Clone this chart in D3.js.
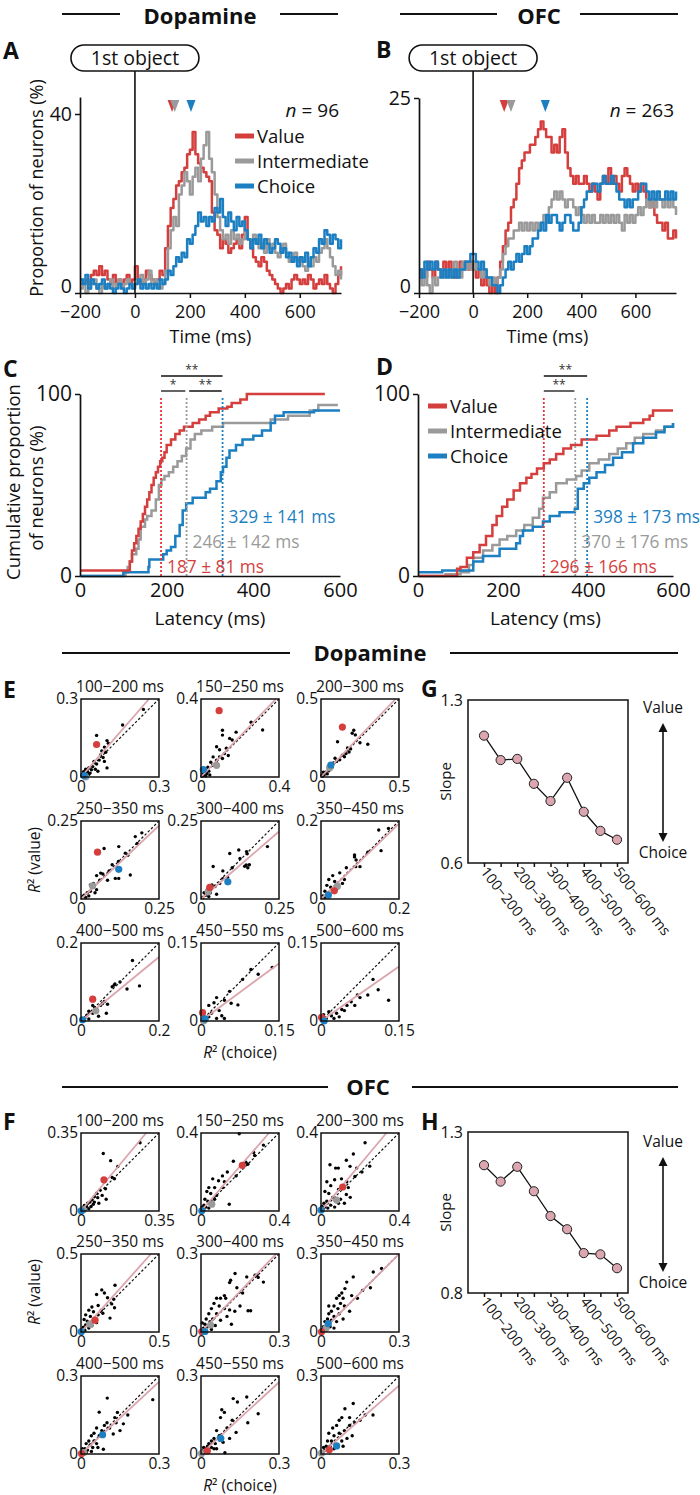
<!DOCTYPE html>
<html><head><meta charset="utf-8">
<script src="https://cdn.jsdelivr.net/npm/d3@7"></script>
<style>body{margin:0;background:#fff}svg{display:block}</style>
</head><body><script>
// ---------------- DATA ----------------
const times = d3.range(-200, 751, 10);
const valueA = [2,2,3,2,4,5,4,6,4,5, 3,2,4,2,3,2,3,4,2,3, 6,3,2,3,5,4,3,2,3,5, 4,10,15,19,21,24,25,27,28,31, 32,36,31,29,28,27,26,25,18,14, 13,10,12,11,9,10,11,12,10,13, 17,12,10,8,7,6,8,7,5,4, 3,2,1,0,1,2,1,3,4,3, 2,3,2,4,3,1,2,3,2,4, 2,1,0,2,4,6];
const interA = [1,3,0,1,2,3,1,0,2,1, 2,3,1,2,3,1,2,3,2,1, 2,3,4,2,3,5,2,3,2,1, 2,5,10,14,17,15,22,24,27,25, 22,26,28,25,30,33,36,30,27,22, 17,14,12,13,11,14,12,13,11,12, 14,12,11,13,12,10,11,9,12,10, 11,9,8,10,11,9,7,8,9,7, 8,6,5,7,6,8,7,9,10,12, 10,8,6,4,5,3];
const choiceA = [3,2,4,1,3,2,1,2,3,1, 2,1,0,1,2,1,0,1,2,1, 2,3,1,2,1,2,1,2,1,3, 2,3,5,4,6,8,7,9,8,12, 11,13,15,18,16,17,15,17,16,19, 18,21,17,15,18,16,14,17,15,16, 14,12,10,12,11,13,10,12,11,9, 10,12,11,9,10,8,9,7,8,6, 8,7,9,6,8,10,9,12,11,14, 13,11,13,12,10,12];
const valueB = [2,3,2,4,3,2,4,3,3,4, 3,4,3,2,3,4,3,4,3,4, 3,2,3,1,2,1,0,1,0,2, 4,6,8,9,11,12,14,16,17,18, 18,19,19,20,21,22,21,20,20,18, 19,18,20,21,18,16,15,14,15,14, 14,15,14,13,14,13,12,14,15,14, 16,14,15,14,13,15,16,15,14,13, 14,13,14,13,12,11,12,10,9,9, 8,9,7,7,8,7];
const interB = [2,1,3,1,0,2,1,2,3,2, 3,2,3,4,3,2,4,3,4,3, 4,3,3,2,3,2,1,2,1,2, 3,5,6,7,7,8,8,9,8,9, 8,9,8,9,8,9,10,9,11,12, 13,12,13,12,11,12,12,11,10,11, 10,9,10,9,10,9,9,10,9,10, 9,10,9,10,9,8,10,9,10,9, 10,11,10,11,12,11,12,11,12,12, 11,12,11,12,11,10];
const choiceB = [3,2,4,3,4,3,4,3,2,3, 2,3,2,3,2,3,3,4,4,5, 5,4,3,4,3,2,2,1,1,0, 1,2,3,4,3,4,5,4,5,6, 5,6,7,7,8,9,8,10,9,10, 10,9,8,9,10,10,9,8,8,9, 11,12,13,13,14,14,13,14,15,14, 14,15,14,13,12,12,11,12,11,12, 12,13,14,14,13,12,13,12,13,12, 12,13,12,13,12,13];
const onsetA = [135,145,204];   // triangles (ms)
const onsetB = [115,140,267];
const seriesNames = ["Value","Intermediate","Choice"];

// cumulative latency distributions [latency ms, %]
const valueC = [[0,3],[112,3],[115,8],[120,14],[125,18],[130,22],[135,26],[140,30],[145,34],[150,38],[155,42],[160,46],[165,50],[170,54],[175,57],[180,60],[185,63],[190,65],[195,68],[200,72],[210,75],[220,78],[230,80],[240,82],[260,84],[275,86],[290,88],[300,90],[320,92],[340,93],[350,95],[370,97],[385,100],[565,100]];
const interC = [[0,0],[100,0],[105,2],[110,5],[115,8],[120,12],[130,15],[135,20],[140,27],[150,31],[155,33],[165,36],[175,42],[182,50],[188,53],[195,55],[205,57],[215,60],[225,63],[235,66],[245,70],[255,75],[265,78],[280,80],[305,82],[330,84],[400,84],[440,86],[480,88],[530,91],[550,94],[595,94]];
const choiceC = [[0,0],[95,0],[100,2],[155,2],[158,5],[160,9],[185,9],[192,12],[200,14],[210,16],[220,22],[230,28],[237,36],[245,40],[260,43],[290,46],[300,48],[315,52],[325,57],[330,60],[338,65],[345,69],[360,72],[375,75],[400,77],[420,80],[440,84],[450,88],[470,90],[540,91],[600,91]];
const valueD = [[0,0],[90,0],[92,4],[100,5],[115,10],[130,13],[145,17],[160,22],[175,28],[185,33],[198,38],[210,42],[225,47],[240,51],[255,54],[267,56],[280,59],[296,62],[310,64],[325,67],[342,70],[360,72],[385,75],[420,77],[450,80],[467,82],[500,84],[530,86],[545,88],[553,91],[600,91]];
const interD = [[0,0],[62,0],[65,1],[100,2],[120,6],[130,10],[153,14],[175,17],[192,20],[210,22],[231,25],[250,28],[270,32],[285,37],[294,43],[310,46],[325,51],[350,53],[372,55],[385,58],[403,62],[425,64],[450,67],[470,70],[490,73],[510,76],[530,78],[560,80],[580,82],[600,84]];
const choiceD = [[0,2],[55,2],[57,3],[125,3],[130,8],[153,11],[192,15],[231,18],[240,22],[247,25],[270,27],[294,30],[310,33],[333,35],[369,37],[376,48],[390,51],[403,54],[420,57],[440,61],[459,65],[480,68],[506,73],[530,76],[560,79],[580,82],[600,84]];
const meanC = [187,246,329], sdC = [81,142,141];
const meanD = [296,370,398], sdD = [166,176,173];
const sigC = [[187,329,0,"**"],[187,243,1,"*"],[252,327,1,"**"]];
const sigD = [[296,398,0,"**"],[296,368,1,"**"]];

// regression windows
const windows = ["100−200 ms","150−250 ms","200−300 ms","250−350 ms","300−400 ms","350−450 ms","400−500 ms","450−550 ms","500−600 ms"];
const maxE = [0.3,0.4,0.5,0.25,0.25,0.2,0.2,0.15,0.15];
const maxF = [0.35,0.4,0.4,0.5,0.3,0.3,0.3,0.3,0.3];
const slopeG = [1.147,1.042,1.047,0.94,0.866,0.966,0.82,0.738,0.70];
const slopeH = [1.197,1.146,1.192,1.116,1.039,0.998,0.924,0.92,0.877];
const dotsE = [
 [[0.24,0.26],[0.16,0.2],[0.06,0.16],[0.1,0.14],[0.105,0.13],[0.09,0.115],[0.08,0.1],[0.095,0.095],[0.075,0.085],[0.085,0.075],[0.07,0.065],[0.09,0.06],[0.06,0.05],[0.05,0.06],[0.045,0.04],[0.055,0.03],[0.04,0.028],[0.03,0.035],[0.025,0.02],[0.02,0.026],[0.015,0.015],[0.01,0.02],[0.012,0.008],[0.005,0.012],[0.02,0.006],[0.035,0.015],[0.065,0.022],[0.1,0.035],[0.008,0.003],[0.003,0.006],[0.03,0.01],[0.018,0.03]],
 [[0.316,0.241],[0.257,0.281],[0.18,0.23],[0.11,0.24],[0.11,0.215],[0.147,0.198],[0.16,0.19],[0.08,0.155],[0.095,0.14],[0.13,0.148],[0.062,0.103],[0.095,0.103],[0.11,0.095],[0.08,0.086],[0.05,0.076],[0.035,0.05],[0.025,0.035],[0.02,0.02],[0.01,0.015],[0.03,0.018],[0.015,0.008],[0.005,0.004],[0.04,0.03],[0.06,0.06],[0.12,0.12],[0.14,0.11],[0.045,0.01],[0.025,0.005],[0.012,0.025]],
 [[0.3,0.21],[0.21,0.3],[0.2,0.28],[0.106,0.226],[0.22,0.27],[0.17,0.186],[0.19,0.18],[0.137,0.14],[0.15,0.13],[0.12,0.11],[0.1,0.1],[0.09,0.12],[0.08,0.09],[0.07,0.06],[0.05,0.04],[0.03,0.03],[0.02,0.015],[0.015,0.03],[0.01,0.005],[0.04,0.02],[0.06,0.05],[0.25,0.22],[0.16,0.15],[0.18,0.16],[0.005,0.012]],
 [[0.074,0.162],[0.121,0.168],[0.174,0.2],[0.195,0.212],[0.18,0.178],[0.142,0.147],[0.15,0.14],[0.158,0.077],[0.121,0.066],[0.11,0.066],[0.09,0.09],[0.063,0.083],[0.07,0.08],[0.05,0.075],[0.085,0.06],[0.06,0.06],[0.04,0.05],[0.03,0.045],[0.05,0.03],[0.03,0.025],[0.02,0.02],[0.01,0.012],[0.015,0.005],[0.005,0.008],[0.025,0.01],[0.1,0.11],[0.12,0.12],[0.045,0.02]],
 [[0.213,0.168],[0.121,0.157],[0.146,0.152],[0.148,0.145],[0.092,0.146],[0.125,0.13],[0.145,0.109],[0.15,0.1],[0.14,0.105],[0.155,0.11],[0.1,0.1],[0.07,0.09],[0.039,0.104],[0.07,0.065],[0.06,0.05],[0.045,0.04],[0.035,0.045],[0.03,0.02],[0.02,0.03],[0.015,0.012],[0.01,0.02],[0.005,0.005],[0.025,0.008],[0.05,0.015],[0.085,0.07]],
 [[0.148,0.177],[0.173,0.181],[0.154,0.124],[0.086,0.113],[0.09,0.1],[0.089,0.083],[0.1,0.083],[0.086,0.108],[0.065,0.08],[0.048,0.067],[0.03,0.06],[0.02,0.05],[0.035,0.045],[0.015,0.035],[0.025,0.03],[0.01,0.02],[0.02,0.012],[0.005,0.008],[0.04,0.025],[0.055,0.04],[0.06,0.05],[0.12,0.12],[0.01,0.004]],
 [[0.132,0.155],[0.15,0.09],[0.118,0.082],[0.087,0.095],[0.085,0.092],[0.08,0.088],[0.068,0.043],[0.06,0.05],[0.055,0.045],[0.05,0.04],[0.04,0.03],[0.03,0.04],[0.03,0.02],[0.02,0.025],[0.015,0.015],[0.01,0.008],[0.005,0.005],[0.045,0.012],[0.02,0.005],[0.065,0.02],[0.1,0.1],[0.035,0.035]],
 [[0.137,0.103],[0.096,0.099],[0.055,0.057],[0.058,0.034],[0.071,0.031],[0.045,0.04],[0.03,0.045],[0.025,0.035],[0.015,0.03],[0.035,0.02],[0.02,0.015],[0.04,0.01],[0.03,0.005],[0.015,0.008],[0.01,0.002],[0.045,0.005],[0.005,0.01],[0.08,0.08],[0.11,0.09]],
 [[0.03,0.015],[0.04,0.022],[0.05,0.03],[0.058,0.037],[0.065,0.03],[0.075,0.045],[0.09,0.05],[0.11,0.06],[0.13,0.04],[0.02,0.01],[0.015,0.018],[0.01,0.005],[0.005,0.012],[0.025,0.005],[0.035,0.008],[0.045,0.02],[0.07,0.05],[0.1,0.08]]
];
const redE = [[0.06,0.125],[0.093,0.34],[0.137,0.32],[0.053,0.15],[0.028,0.037],[0.034,0.021],[0.03,0.056],[0.003,0.016],[0.001,0.007]];
const grayE = [[0.018,0.0],[0.08,0.06],[0.055,0.06],[0.037,0.042],[0.023,0.023],[0.042,0.033],[0.038,0.026],[0.005,0.0],[0.003,0.004]];
const blueE = [[0.012,0.005],[0.012,0.038],[0.063,0.077],[0.121,0.095],[0.086,0.055],[0.019,0.01],[0.004,0.003],[0.008,0.004],[0.006,0.0]];
const dotsF = [
 [[0.265,0.306],[0.1,0.258],[0.133,0.226],[0.165,0.2],[0.14,0.15],[0.15,0.145],[0.11,0.1],[0.085,0.095],[0.07,0.08],[0.095,0.07],[0.113,0.053],[0.06,0.065],[0.075,0.06],[0.05,0.05],[0.04,0.04],[0.055,0.03],[0.03,0.035],[0.025,0.02],[0.015,0.025],[0.01,0.01],[0.02,0.005],[0.005,0.015],[0.035,0.01],[0.045,0.02],[0.008,0.003],[0.06,0.04],[0.08,0.035]],
 [[0.196,0.396],[0.32,0.338],[0.27,0.3],[0.275,0.285],[0.23,0.25],[0.166,0.255],[0.135,0.2],[0.11,0.18],[0.09,0.155],[0.06,0.165],[0.04,0.12],[0.07,0.12],[0.11,0.12],[0.12,0.15],[0.145,0.035],[0.03,0.1],[0.05,0.09],[0.08,0.08],[0.02,0.06],[0.035,0.05],[0.06,0.045],[0.015,0.03],[0.025,0.02],[0.01,0.01],[0.005,0.02],[0.04,0.015],[0.07,0.06],[0.015,0.005],[0.18,0.18],[0.24,0.24]],
 [[0.046,0.237],[0.075,0.22],[0.089,0.22],[0.149,0.229],[0.166,0.292],[0.226,0.35],[0.13,0.26],[0.183,0.22],[0.174,0.177],[0.132,0.15],[0.14,0.12],[0.03,0.15],[0.05,0.13],[0.07,0.16],[0.105,0.165],[0.09,0.11],[0.13,0.085],[0.15,0.07],[0.02,0.1],[0.04,0.09],[0.06,0.07],[0.03,0.05],[0.015,0.04],[0.09,0.04],[0.12,0.04],[0.05,0.03],[0.02,0.02],[0.01,0.01],[0.035,0.015],[0.07,0.02],[0.005,0.025],[0.1,0.06],[0.21,0.2],[0.25,0.23]],
 [[0.218,0.3],[0.133,0.27],[0.1,0.24],[0.15,0.25],[0.17,0.22],[0.21,0.21],[0.197,0.18],[0.215,0.155],[0.11,0.17],[0.07,0.16],[0.05,0.14],[0.08,0.13],[0.03,0.11],[0.06,0.1],[0.11,0.11],[0.14,0.12],[0.02,0.08],[0.04,0.07],[0.186,0.089],[0.1,0.06],[0.03,0.045],[0.015,0.03],[0.05,0.025],[0.01,0.015],[0.025,0.01],[0.005,0.005],[0.07,0.04],[0.13,0.14]],
 [[0.131,0.225],[0.114,0.199],[0.11,0.19],[0.138,0.17],[0.214,0.218],[0.176,0.212],[0.208,0.218],[0.22,0.21],[0.24,0.192],[0.191,0.082],[0.181,0.082],[0.15,0.1],[0.13,0.08],[0.11,0.085],[0.09,0.09],[0.1,0.06],[0.117,0.03],[0.07,0.1],[0.075,0.13],[0.09,0.14],[0.06,0.13],[0.05,0.11],[0.04,0.09],[0.06,0.07],[0.03,0.07],[0.02,0.05],[0.035,0.04],[0.045,0.05],[0.015,0.03],[0.025,0.02],[0.01,0.015],[0.005,0.035],[0.04,0.01],[0.055,0.025],[0.075,0.045],[0.095,0.13],[0.16,0.15]],
 [[0.201,0.231],[0.233,0.244],[0.124,0.212],[0.099,0.192],[0.118,0.14],[0.14,0.13],[0.092,0.167],[0.08,0.15],[0.085,0.13],[0.07,0.14],[0.06,0.13],[0.075,0.11],[0.09,0.1],[0.05,0.1],[0.065,0.09],[0.04,0.08],[0.03,0.07],[0.05,0.06],[0.07,0.07],[0.025,0.05],[0.04,0.045],[0.015,0.04],[0.06,0.04],[0.085,0.05],[0.02,0.025],[0.035,0.02],[0.01,0.02],[0.005,0.01],[0.02,0.008],[0.05,0.015],[0.16,0.16],[0.19,0.17],[0.03,0.1],[0.11,0.08]],
 [[0.276,0.209],[0.101,0.215],[0.07,0.161],[0.13,0.14],[0.14,0.16],[0.135,0.12],[0.163,0.116],[0.124,0.077],[0.1,0.12],[0.09,0.11],[0.11,0.1],[0.06,0.1],[0.08,0.09],[0.05,0.08],[0.07,0.07],[0.04,0.07],[0.03,0.05],[0.05,0.05],[0.06,0.04],[0.02,0.04],[0.035,0.035],[0.045,0.025],[0.015,0.02],[0.025,0.015],[0.01,0.01],[0.005,0.02],[0.086,0.018],[0.065,0.025],[0.04,0.01],[0.02,0.005],[0.18,0.15],[0.15,0.09]],
 [[0.176,0.219],[0.124,0.213],[0.14,0.2],[0.08,0.17],[0.09,0.16],[0.075,0.14],[0.22,0.155],[0.18,0.12],[0.135,0.083],[0.092,0.005],[0.1,0.1],[0.12,0.13],[0.06,0.09],[0.07,0.07],[0.05,0.06],[0.04,0.05],[0.055,0.04],[0.03,0.04],[0.025,0.03],[0.04,0.025],[0.02,0.02],[0.015,0.01],[0.03,0.012],[0.05,0.02],[0.06,0.02],[0.01,0.025],[0.005,0.012],[0.085,0.045],[0.11,0.06]],
 [[0.124,0.194],[0.092,0.174],[0.08,0.14],[0.07,0.13],[0.06,0.11],[0.045,0.1],[0.03,0.08],[0.05,0.07],[0.07,0.08],[0.09,0.09],[0.11,0.11],[0.13,0.12],[0.15,0.13],[0.17,0.15],[0.1,0.06],[0.08,0.05],[0.04,0.05],[0.025,0.05],[0.02,0.03],[0.035,0.03],[0.015,0.015],[0.01,0.025],[0.005,0.008],[0.03,0.01],[0.05,0.02],[0.06,0.035],[0.085,0.03],[0.12,0.07],[0.2,0.15],[0.11,0.14]]
];
const redF = [[0.103,0.14],[0.212,0.234],[0.111,0.123],[0.09,0.076],[0.003,0.002],[0.002,0.001],[0.002,0.002],[0.024,0.012],[0.032,0.016]];
const grayF = [[0.01,0.005],[0.055,0.035],[0.08,0.056],[0.058,0.05],[0.037,0.027],[0.02,0.015],[0.01,0.005],[0.002,0.002],[0.002,0.003]];
const blueF = [[0.001,0.001],[0.004,0.001],[0.001,0.005],[0.002,0.002],[0.015,0.002],[0.028,0.032],[0.083,0.074],[0.076,0.06],[0.06,0.031]];

// ---------------- STYLE ----------------
const COLS = ["#d43f3e","#9a9a9a","#1b7fc2"];
const PINK = "#dca4ad", PTFILL = "#dba6b0";
const FONT = "'Open Sans', sans-serif";
const svg = d3.select("body").append("svg").attr("width",700).attr("height",1495)
  .style("font-family",FONT);

function text(x,y,s,size,opt={}){
  const t = svg.append("text").attr("x",x).attr("y",y).attr("font-size",size)
    .attr("fill",opt.fill||"#111").attr("text-anchor",opt.anchor||"start").text(s);
  if(opt.weight) t.attr("font-weight",opt.weight);
  if(opt.rotate!==undefined) t.attr("transform",`rotate(${opt.rotate},${x},${y})`);
  return t;
}
function hline(x1,x2,y,w){svg.append("line").attr("x1",x1).attr("x2",x2).attr("y1",y).attr("y2",y).attr("stroke","#111").attr("stroke-width",w||2);}
function heading(cx,base,label,l,r,ly){
  text(cx,base,label,22,{anchor:"middle",weight:"bold"});
  hline(l[0],l[1],ly,2); hline(r[0],r[1],ly,2);
}
function styleAxis(g,size){
  g.select(".domain").attr("stroke","#111").attr("stroke-width",1.7);
  g.selectAll(".tick line").attr("stroke","#111").attr("stroke-width",1.5);
  g.selectAll(".tick text").attr("font-size",size).attr("fill","#111").attr("font-family",FONT);
}
function label(x,y,s){ text(x,y,s,23,{weight:"bold"}); }

// headings
heading(200,24,"Dopamine",[62,120],[280,338],14);
heading(539,24,"OFC",[400,497],[580,678],14);
heading(370,661,"Dopamine",[62,290],[450,678],653);
heading(368,1095,"OFC",[62,328],[412,678],1087);

// ---------------- A / B ----------------
function timePanel(o){
  const x = d3.scaleLinear().domain([-200,750]).range(o.xr);
  const y = d3.scaleLinear().domain([0,o.ytop]).range(o.yr);
  const line = d3.line().x((d,i)=>x(times[i])).y(d=>y(d)).curve(d3.curveStepAfter);
  o.series.forEach((s,k)=>svg.append("path").attr("d",line(s)).attr("fill","none")
     .attr("stroke",COLS[k]).attr("stroke-width",2.5).attr("stroke-linejoin","round"));
  svg.append("line").attr("x1",x(0)).attr("x2",x(0)).attr("y1",o.boxY+26).attr("y2",y(0))
     .attr("stroke","#111").attr("stroke-width",1.6);
  svg.append("rect").attr("x",x(0)-64).attr("y",o.boxY).attr("width",128).attr("height",26)
     .attr("rx",13).attr("fill","#fff").attr("stroke","#111").attr("stroke-width",1.6);
  text(x(0),o.boxY+19.5,"1st object",19.5,{anchor:"middle"});
  o.onsets.forEach((t,k)=>svg.append("path")
     .attr("d",`M${x(t)-4.5},100 L${x(t)+4.5},100 L${x(t)},112 Z`).attr("fill",COLS[k]));
  const gx = svg.append("g").attr("transform",`translate(0,${y(0)})`)
     .call(d3.axisBottom(x).tickValues([-200,0,200,400,600]).tickSize(5).tickSizeOuter(0).tickPadding(7));
  styleAxis(gx,18);
  const gy = svg.append("g").attr("transform",`translate(${o.xr[0]},0)`)
     .call(d3.axisLeft(y).tickValues(o.yticks).tickSize(5).tickSizeOuter(0).tickPadding(3));
  styleAxis(gy,19.5);
  gy.selectAll(".tick text").filter(d=>d===0).attr("dy","-0.03em");
  text((o.xr[0]+o.xr[1])/2,343,"Time (ms)",18,{anchor:"middle"});
  const n = text(o.xr[1]-2,117,"",19,{anchor:"end"});
  n.append("tspan").attr("font-style","italic").text("n");
  n.append("tspan").text(" = "+o.n);
}
timePanel({xr:[80,341],yr:[293,97],ytop:43.8,yticks:[0,40],series:[valueA,interA,choiceA],onsets:onsetA,boxY:45,n:96});
timePanel({xr:[419,676],yr:[293,98],ytop:25,yticks:[0,25],series:[valueB,interB,choiceB],onsets:onsetB,boxY:45,n:263});
text(43,188,"Proportion of neurons (%)",18,{anchor:"middle",rotate:-90});
function legend(x,y0,dy){
  seriesNames.forEach((s,k)=>{
    svg.append("line").attr("x1",x).attr("x2",x+19).attr("y1",y0+k*dy).attr("y2",y0+k*dy)
      .attr("stroke",COLS[k]).attr("stroke-width",5);
    text(x+22,y0+k*dy+6.5,s,18.5);
  });
}
legend(235,136,25);
label(3,59,"A"); label(376,58,"B");

// ---------------- C / D ----------------
function cumPanel(o){
  const x = d3.scaleLinear().domain([0,600]).range(o.xr);
  const y = d3.scaleLinear().domain([0,100]).range([576,394]);
  const line = d3.line().x(d=>x(d[0])).y(d=>y(d[1])).curve(d3.curveStepAfter);
  [1,2,0].forEach(k=>svg.append("path").attr("d",line(o.curves[k])).attr("fill","none")
     .attr("stroke",COLS[k]).attr("stroke-width",2.5));
  o.means.forEach((m,k)=>{
    svg.append("line").attr("x1",x(m)).attr("x2",x(m)).attr("y1",398).attr("y2",576)
      .attr("stroke",k==0?"#e8333b":COLS[k]).attr("stroke-width",1.8).attr("stroke-dasharray","2,2");
  });
  const ty=[573,548,523];
  o.means.forEach((m,k)=>text(x(m)+6,ty[k],`${m} ± ${o.sds[k]} ms`,17.3,{fill:COLS[k]}));
  o.sig.forEach(s=>{
    const yy = s[2]==0?376:391;
    hline(x(s[0]),x(s[1]),yy,1.3);
    text((x(s[0])+x(s[1]))/2,yy-2,s[3],12,{anchor:"middle",fill:"#333"});
  });
  const gx = svg.append("g").attr("transform","translate(0,576)")
     .call(d3.axisBottom(x).tickValues([0,200,400,600]).tickSize(0).tickSizeOuter(0).tickPadding(7));
  styleAxis(gx,20);
  const gy = svg.append("g").attr("transform",`translate(${o.xr[0]},0)`)
     .call(d3.axisLeft(y).tickValues([0,100]).tickSize(5).tickSizeOuter(0).tickPadding(3));
  styleAxis(gy,21);
  text((o.xr[0]+o.xr[1])/2,625,"Latency (ms)",19,{anchor:"middle"});
}
cumPanel({xr:[80,340],curves:[valueC,interC,choiceC],means:meanC,sds:sdC,sig:sigC});
cumPanel({xr:[418,673],curves:[valueD,interD,choiceD],means:meanD,sds:sdD,sig:sigD});
text(20,482,"Cumulative proportion",18.5,{anchor:"middle",rotate:-90});
text(43,488,"of neurons (%)",18.5,{anchor:"middle",rotate:-90});
legend(428,406,25);
label(3,377,"C"); label(376,375,"D");

// ---------------- E / F ----------------
function scatterGrid(cols,rows,maxes,slopes,dots,reds,grays,blues){
  const S=78;
  windows.forEach((w,i)=>{
    const x0=cols[i%3], y0=rows[Math.floor(i/3)], m=maxes[i];
    const x=d3.scaleLinear().domain([0,m]).range([x0,x0+S]);
    const y=d3.scaleLinear().domain([0,m]).range([y0+S,y0]);
    text(x0+S/2,y0-7,w,15.5,{anchor:"middle"});
    svg.selectAll(null).data(dots[i]).enter().append("circle")
      .attr("cx",d=>x(d[0])).attr("cy",d=>y(d[1])).attr("r",1.7).attr("fill","#000");
    svg.append("line").attr("x1",x(0)).attr("y1",y(0)).attr("x2",x(m)).attr("y2",y(m))
      .attr("stroke","#111").attr("stroke-width",1.2).attr("stroke-dasharray","2.5,2");
    const s=slopes[i], ex = s>=1? m/s : m, ey = s>=1? m : m*s;
    svg.append("line").attr("x1",x(0)).attr("y1",y(0)).attr("x2",x(ex)).attr("y2",y(ey))
      .attr("stroke",PINK).attr("stroke-width",1.8);
    [[grays,1],[reds,0],[blues,2]].forEach(([arr,k])=>svg.append("circle")
      .attr("cx",x(arr[i][0])).attr("cy",y(arr[i][1])).attr("r",3.6).attr("fill",COLS[k]));
    svg.append("rect").attr("x",x0).attr("y",y0).attr("width",S).attr("height",S)
      .attr("fill","none").attr("stroke","#111").attr("stroke-width",1.5);
    const fmt = d=>d===0?"0":String(d);
    const gy = svg.append("g").attr("transform",`translate(${x0},0)`)
      .call(d3.axisLeft(y).tickValues([0,m]).tickSize(0).tickPadding(3).tickFormat(fmt));
    styleAxis(gy,15.5); gy.select(".domain").remove();
    const gx = svg.append("g").attr("transform",`translate(0,${y0+S})`)
      .call(d3.axisBottom(x).tickValues([0,m]).tickSize(0).tickPadding(4).tickFormat(fmt));
    styleAxis(gx,15.5); gx.select(".domain").remove();
  });
}
scatterGrid([81,201,321],[699,821,943],maxE,slopeG,dotsE,redE,grayE,blueE);
scatterGrid([81,201,321],[1133,1254,1376],maxF,slopeH,dotsF,redF,grayF,blueF);
function r2label(x,y,s,rot){
  const t=text(x,y,"",15.5,{anchor:"middle",rotate:rot});
  t.append("tspan").attr("font-style","italic").text("R");
  t.append("tspan").text("² "+s);
}
r2label(40,860,"(value)",-90); r2label(240,1058,"(choice)");
r2label(40,1292,"(value)",-90); r2label(240,1491,"(choice)");
label(3,698,"E"); label(3,1130,"F");

// ---------------- G / H ----------------
function slopePanel(o){
  const x = d3.scalePoint().domain(windows).range([484,617]);
  const y = d3.scaleLinear().domain(o.dom).range([o.y1,o.y0]);
  svg.append("rect").attr("x",468).attr("y",o.y0).attr("width",160).attr("height",o.y1-o.y0)
    .attr("fill","none").attr("stroke","#111").attr("stroke-width",1.5);
  const gx = svg.append("g").attr("transform",`translate(0,${o.y1})`)
    .call(d3.axisBottom(x).tickSize(4).tickFormat(""));
  styleAxis(gx,13); gx.select(".domain").remove();
  windows.forEach((w,i)=>{ if(i%2==0) text(x(w)-4,o.y1+9,w,14.5,{rotate:52}); });
  const gy = svg.append("g").attr("transform","translate(468,0)")
    .call(d3.axisLeft(y).tickValues(o.dom).tickSize(0).tickPadding(5).tickFormat(d3.format(".1f")));
  styleAxis(gy,16); gy.select(".domain").remove();
  const line=d3.line().x((d,i)=>x(windows[i])).y(d=>y(d));
  svg.append("path").attr("d",line(o.slopes)).attr("fill","none").attr("stroke","#111").attr("stroke-width",1.3);
  svg.selectAll(null).data(o.slopes).enter().append("circle")
    .attr("cx",(d,i)=>x(windows[i])).attr("cy",d=>y(d)).attr("r",4.6)
    .attr("fill",PTFILL).attr("stroke","#222").attr("stroke-width",1);
  text(451,(o.y0+o.y1)/2,"Slope",15,{anchor:"middle",rotate:-90});
  const ax=663;
  svg.append("line").attr("x1",ax).attr("x2",ax).attr("y1",o.a0+6).attr("y2",o.a1-6).attr("stroke","#111").attr("stroke-width",1.6);
  svg.append("path").attr("d",`M${ax},${o.a0} L${ax-4.5},${o.a0+9} L${ax+4.5},${o.a0+9} Z`).attr("fill","#111");
  svg.append("path").attr("d",`M${ax},${o.a1} L${ax-4.5},${o.a1-9} L${ax+4.5},${o.a1-9} Z`).attr("fill","#111");
  text(ax,o.a0-10,"Value",15.5,{anchor:"middle"});
  text(ax,o.a1+16,"Choice",15.5,{anchor:"middle"});
}
slopePanel({dom:[0.6,1.3],y0:700,y1:863,slopes:slopeG,a0:723,a1:842});
slopePanel({dom:[0.8,1.3],y0:1132,y1:1293,slopes:slopeH,a0:1157,a1:1272});
label(421,697,"G"); label(421,1130,"H");
</script></body></html>
